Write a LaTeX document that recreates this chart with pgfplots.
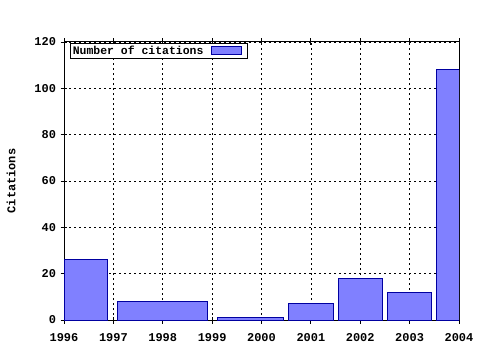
\documentclass[border=0pt]{standalone}
\usepackage{pgfplots}
\pgfplotsset{compat=1.18}
\usepackage{fontspec}
\setmainfont{Liberation Mono}
\definecolor{barfill}{HTML}{8080FF}
\definecolor{baredge}{HTML}{0000A0}
\begin{document}
\begin{tikzpicture}
\begin{axis}[
  scale only axis,
  width=395bp, height=278bp,
  xmin=1996, xmax=2004, ymin=0, ymax=120,
  xtick={1996,1997,...,2004},
  ytick={0,20,...,120},
  minor x tick num=4,
  xtick pos=both, ytick pos=left,
  tick align=center,
  major tick length=7bp, minor tick length=3bp,
  grid=major,
  major grid style={black, line width=0.6bp, dash pattern=on 2bp off 3bp},
  axis line style={black, line width=1bp},
  tick style={black, line width=0.8bp},
  /pgf/number format/assume math mode=true,
  /pgf/number format/1000 sep={},
  ticklabel style={font=\fontsize{12}{12}\selectfont\bfseries},
  xticklabel style={yshift=-6bp},
  yticklabel style={xshift=-1bp},
  ylabel={Citations},
  ylabel style={font=\fontsize{12}{12}\selectfont\bfseries, yshift=12bp},
  legend style={at={(rel axis cs:0.015,0.997)}, anchor=north west,
    draw=black, line width=0.8bp, font=\fontsize{11.5}{12}\selectfont\bfseries,
    inner sep=0.5bp, row sep=0bp, legend cell align=left},
  legend plot pos=right,
  legend image code/.code={\path[draw=none,fill=none] (0bp,0bp) rectangle (41bp,0.1bp);\draw[fill=barfill, draw=baredge, line width=1bp] (6bp,-3.5bp) rectangle (36bp,4bp);},
]
\addplot[fill=barfill, draw=baredge, line width=1bp] coordinates {(1996,0) (1996,26) (1996.89,26) (1996.89,0)} -- cycle;
\addlegendentry{Number of citations}
\addplot[forget plot, fill=barfill, draw=baredge, line width=1bp] coordinates {(1997.09,0) (1997.09,8) (1998.9,8) (1998.9,0)} -- cycle;
\addplot[forget plot, fill=barfill, draw=baredge, line width=1bp] coordinates {(1999.1,0) (1999.1,1) (2000.45,1) (2000.45,0)} -- cycle;
\addplot[forget plot, fill=barfill, draw=baredge, line width=1bp] coordinates {(2000.55,0) (2000.55,7) (2001.45,7) (2001.45,0)} -- cycle;
\addplot[forget plot, fill=barfill, draw=baredge, line width=1bp] coordinates {(2001.55,0) (2001.55,18) (2002.46,18) (2002.46,0)} -- cycle;
\addplot[forget plot, fill=barfill, draw=baredge, line width=1bp] coordinates {(2002.56,0) (2002.56,12) (2003.45,12) (2003.45,0)} -- cycle;
\addplot[forget plot, fill=barfill, draw=baredge, line width=1bp] coordinates {(2003.55,0) (2003.55,108) (2004.3,108) (2004.3,0)} -- cycle;
\end{axis}
\path ([xshift=-64bp,yshift=-30bp]current axis.south west) rectangle ([xshift=21bp,yshift=42bp]current axis.north east);
\end{tikzpicture}
\end{document}
